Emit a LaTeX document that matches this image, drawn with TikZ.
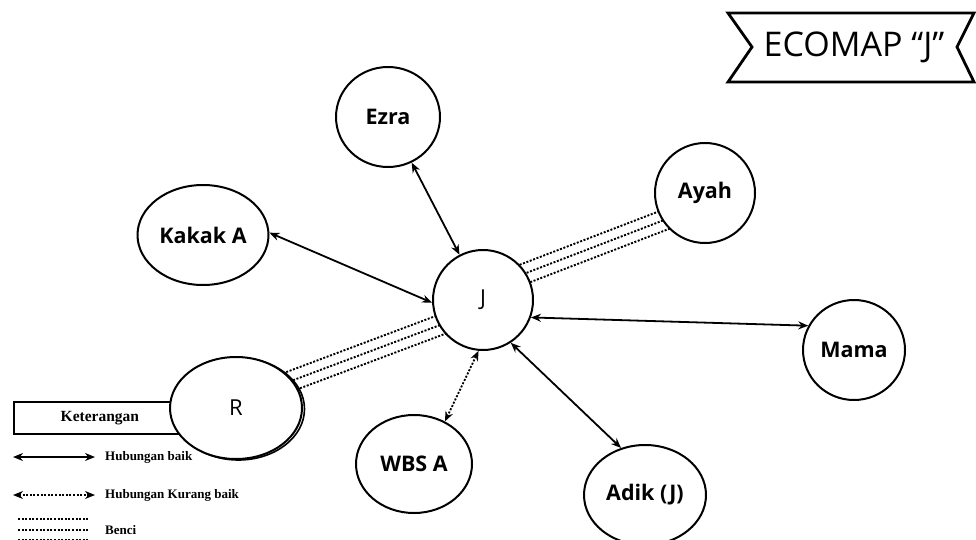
\documentclass[tikz,border=0pt]{standalone}
\usepackage{fontspec}
\setmainfont{Open Sans}
\newfontfamily\legendfont{Liberation Serif}
\usetikzlibrary{positioning,shapes.geometric,arrows.meta,backgrounds,calc}
\tikzset{
  person/.style={draw, ellipse, line width=2pt, fill=white, inner sep=0pt, font=\fontsize{21.5}{24}\selectfont\bfseries},
  focus/.style={person, font=\fontsize{22}{25}\selectfont},
  baik/.style={{Stealth[length=10pt,width=8pt]}-{Stealth[length=10pt,width=8pt]}, line width=1.8pt},
  kurangbaik/.style={baik, dash pattern=on 2pt off 1.6pt},
  benci/.style={line width=1.9pt, dash pattern=on 2pt off 1.6pt},
  legendtext/.style={anchor=west, inner sep=0pt, font=\legendfont\fontsize{13}{15}\selectfont\bfseries}
}

\begin{document}
\begin{tikzpicture}[x=1pt,y=-1pt]
  \useasboundingbox (0,0) rectangle (976,540);

  \node[focus, circle, minimum size=100pt] (j) at (483,300) {J};
  \node[person, minimum width=104pt, minimum height=100pt] (ezra) at (388,117) {Ezra};
  \node[person, minimum width=131pt, minimum height=100pt] (kakak) at (203,235) {Kakak A};
  \node[person, minimum width=100pt, minimum height=100pt] (ayah) at (705,193) {Ayah};
  \node[person, minimum width=102pt, minimum height=100pt] (mama) at (854,350) {Mama};
  \node[person, minimum width=116pt, minimum height=98pt] (wbs) at (414,464) {WBS A};
  \node[person, minimum width=122pt, minimum height=100pt] (adik) at (645,495) {Adik (J)};

  \node[draw, line width=1.8pt, anchor=west, minimum width=172pt, minimum height=32pt, font=\legendfont\fontsize{15.5}{18}\selectfont\bfseries] (ket) at (13,418) {Keterangan};
  \draw[line width=1.6pt] (238.5,409) ellipse [x radius=66, y radius=51];
  \node[focus, minimum width=132pt, minimum height=102pt] (r) at (236,408) {R};

  \draw[baik] (ezra) -- (j);
  \draw[baik] (kakak.2) -- (j.183);
  \draw[baik] (j.-20) -- (mama.152);
  \draw[baik] (j.-57) -- (adik.117);
  \draw[kurangbaik] (j.-95) -- (wbs.54);

  \begin{scope}[on background layer]
    \foreach \o in {-10pt,0pt,10pt}{
      \draw[benci, shorten <=-14pt, shorten >=-14pt] ($(r.26)!\o!90:(j.210)$) -- ($(j.210)!\o!-90:(r.26)$);
      \draw[benci, shorten <=-14pt, shorten >=-14pt] ($(j.32)!\o!90:(ayah.213)$) -- ($(ayah.213)!\o!-90:(j.32)$);
    }
  \end{scope}

  \draw[line width=2.8pt, line join=miter] (728,13) -- (974,13) -- (957,47) -- (974,82) -- (728,82) -- (752,47) -- cycle;
  \node[font=\fontsize{34}{38}\selectfont] (title) at (854,47) {ECOMAP “J”};

  \coordinate (baikA) at (13,457);
  \coordinate (baikB) at (95,457);
  \draw[baik] (baikA) -- (baikB);
  \node[legendtext] (hbaik) at (105,457) {Hubungan baik};

  \coordinate (kurangA) at (13,495);
  \coordinate (kurangB) at (95,495);
  \draw[kurangbaik] (kurangA) -- (kurangB);
  \node[legendtext] (hkurang) at (105,495) {Hubungan Kurang baik};

  \foreach \y in {519,530,540}
    \draw[benci] (18,\y) -- (88,\y);
  \node[legendtext] (hbenci) at (105,530) {Benci};
\end{tikzpicture}
\end{document}
